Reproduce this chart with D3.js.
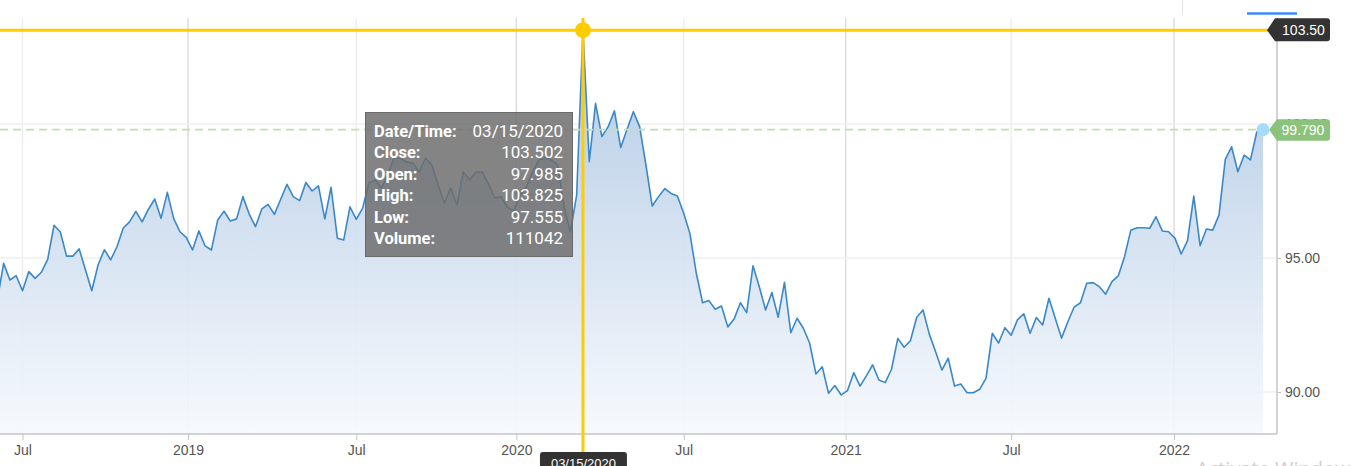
<!DOCTYPE html>
<html><head><meta charset="utf-8">
<script src="https://cdn.jsdelivr.net/npm/d3@7"></script>
<style>html,body{margin:0;padding:0;background:#fff;overflow:hidden}svg{display:block}</style>
</head><body>
<svg id="chart" width="1352" height="466"></svg>
<script>
// ---------------- data ----------------
const startDate = "2018-06-03"; // first weekly observation (weekly, Sundays)
const closeValues = [
 93.43,94.80,94.18,94.34,93.78,94.49,94.24,94.47,94.95,96.22,
 95.98,95.07,95.07,95.34,94.55,93.78,94.74,95.31,94.93,95.42,
 96.12,96.35,96.74,96.35,96.82,97.20,96.48,97.45,96.48,95.98,
 95.77,95.30,96.01,95.45,95.30,96.42,96.75,96.38,96.46,97.29,
 96.64,96.17,96.83,97.00,96.63,97.19,97.75,97.29,97.14,97.82,
 97.50,97.69,96.46,97.64,95.74,95.67,96.91,96.44,96.85,97.80,
 97.91,97.61,98.10,98.73,98.73,98.58,98.54,98.21,98.73,98.47,
 97.72,97.05,97.61,96.98,98.21,97.91,98.21,98.21,97.76,97.24,
 97.28,96.90,96.75,97.35,97.65,98.21,98.66,98.73,98.66,98.47,
 96.90,95.97,97.35,103.502,98.59,100.77,99.53,99.90,100.49,99.12,
 99.80,100.46,99.90,98.47,96.94,97.29,97.59,97.41,97.31,96.67,
 95.90,94.43,93.33,93.41,93.09,93.21,92.43,92.72,93.33,92.96,
 94.71,93.93,93.06,93.71,92.79,94.09,92.21,92.75,92.38,91.82,
 90.67,90.94,89.95,90.24,89.89,90.05,90.72,90.22,90.60,91.01,
 90.45,90.35,90.85,92.00,91.67,91.91,92.79,93.06,92.16,91.50,
 90.82,91.26,90.22,90.30,89.97,89.97,90.10,90.51,92.19,91.83,
 92.40,92.12,92.69,92.92,92.19,92.78,92.50,93.50,92.75,92.01,
 92.62,93.17,93.33,94.06,94.08,93.93,93.65,94.12,94.33,95.05,
 96.04,96.13,96.13,96.11,96.54,96.01,95.98,95.74,95.15,95.65,
 97.31,95.46,96.08,96.04,96.60,98.68,99.15,98.22,98.84,98.66,
 99.70,99.79
];
const xTickDates  = ["2018-07-01","2019-01-01","2019-07-07","2020-01-01","2020-07-05","2021-01-01","2021-07-04","2022-01-01"];
const xTickLabels = ["Jul","2019","Jul","2020","Jul","2021","Jul","2022"];
const xTickMajor  = [false,true,false,true,false,true,false,true];
const yTickValues = [90,95,100];
const yTickLabels = ["90.00","95.00","100.00"];
const tooltipLabels = ["Date/Time:","Close:","Open:","High:","Low:","Volume:"];
const tooltipValues = ["03/15/2020","103.502","97.985","103.825","97.555","111042"];
const hoverDate = "2020-03-15";
const hoverValue = 103.50;
const hoverValueLabel = "103.50";
const lastValueLabel = "99.790";
const hoverDateLabel = "03/15/2020";

// ---------------- setup ----------------
const parse = d3.utcParse("%Y-%m-%d");
const t0 = parse(startDate);
const data = closeValues.map((v,i)=>({date:d3.utcDay.offset(t0,7*i), value:v}));
const last = data[data.length-1];

const plot = {left:0, right:1277, top:18, bottom:434};
const x = d3.scaleUtc().domain([parse("2018-07-01"), parse("2022-01-01")]).range([22.5, 1174]);
const y = d3.scaleLinear().domain([90,100]).range([392,124]);

const svg = d3.select("#chart");
const defs = svg.append("defs");
defs.append("clipPath").attr("id","clip").append("rect")
  .attr("x",plot.left).attr("y",plot.top).attr("width",plot.right-plot.left).attr("height",plot.bottom-plot.top);
const grad = defs.append("linearGradient").attr("id","areaGrad")
  .attr("gradientUnits","userSpaceOnUse").attr("x1",0).attr("x2",0).attr("y1",30).attr("y2",plot.bottom);
grad.append("stop").attr("offset","0%").attr("stop-color","#abc5e2").attr("stop-opacity",0.92);
grad.append("stop").attr("offset","100%").attr("stop-color","#f6f9fd").attr("stop-opacity",0.92);

// top decorations (range selector fragments)
svg.append("line").attr("x1",1182.5).attr("x2",1182.5).attr("y1",0).attr("y2",15).attr("stroke","#e2e2e2").attr("stroke-width",1);
svg.append("line").attr("x1",1247).attr("x2",1297).attr("y1",13.5).attr("y2",13.5).attr("stroke","#3d8af7").attr("stroke-width",2.5);

// grid
const gx = svg.append("g");
xTickDates.forEach((d,i)=>{
  const xp = x(parse(d));
  gx.append("line").attr("x1",xp).attr("x2",xp).attr("y1",plot.top).attr("y2",plot.bottom)
    .attr("stroke", xTickMajor[i] ? "#dddddd" : "#eeeeee").attr("stroke-width",1.5);
});
yTickValues.forEach(v=>{
  svg.append("line").attr("x1",plot.left).attr("x2",plot.right).attr("y1",y(v)).attr("y2",y(v))
    .attr("stroke","#efefef").attr("stroke-width",1.5);
});

// area + line
const g = svg.append("g").attr("clip-path","url(#clip)");
g.append("path").datum(data)
  .attr("d", d3.area().x(d=>x(d.date)).y0(plot.bottom).y1(d=>y(d.value)))
  .attr("fill","url(#areaGrad)");
g.append("path").datum(data)
  .attr("d", d3.line().x(d=>x(d.date)).y(d=>y(d.value)))
  .attr("fill","none").attr("stroke","#3b88c8").attr("stroke-width",1.6).attr("stroke-linejoin","round");

// last value dashed line
svg.append("line").attr("x1",plot.left).attr("x2",x(last.date)).attr("y1",y(last.value)).attr("y2",y(last.value))
  .attr("stroke","#bfe0b0").attr("stroke-width",1.8).attr("stroke-dasharray","8,5");

// axes
const axisColor = "#c4c4c4";
svg.append("line").attr("x1",plot.left).attr("x2",plot.right).attr("y1",plot.bottom).attr("y2",plot.bottom)
  .attr("stroke",axisColor).attr("stroke-width",1.5);
svg.append("line").attr("x1",plot.right).attr("x2",plot.right).attr("y1",plot.top).attr("y2",plot.bottom)
  .attr("stroke",axisColor).attr("stroke-width",1.5);
const xAxis = d3.axisBottom(x).tickValues(xTickDates.map(parse))
  .tickFormat((d,i)=>xTickLabels[i]).tickSize(6).tickPadding(5);
const xa = svg.append("g").attr("transform",`translate(0,${plot.bottom})`).call(xAxis);
xa.select(".domain").remove();
xa.selectAll(".tick line").attr("stroke",axisColor);
xa.selectAll(".tick text").attr("fill","#555").attr("font-family","'Liberation Sans', Arial, sans-serif").attr("font-size",14);

const yAxis = d3.axisRight(y).tickValues(yTickValues).tickFormat((d,i)=>yTickLabels[i]).tickSize(4).tickPadding(4);
const ya = svg.append("g").attr("transform",`translate(${plot.right},0)`).call(yAxis);
ya.select(".domain").remove();
ya.selectAll(".tick line").attr("stroke",axisColor);
ya.selectAll(".tick text").attr("fill","#555").attr("font-family","'Liberation Sans', Arial, sans-serif").attr("font-size",14);

// crosshair
const hx = x(parse(hoverDate)), hy = y(hoverValue);
const yellow = "#ffcc00";
svg.append("line").attr("x1",plot.left).attr("x2",1268).attr("y1",hy).attr("y2",hy).attr("stroke",yellow).attr("stroke-width",3);
svg.append("line").attr("x1",hx).attr("x2",hx).attr("y1",plot.top).attr("y2",454).attr("stroke",yellow).attr("stroke-width",3);
svg.append("circle").attr("cx",hx).attr("cy",hy).attr("r",8).attr("fill",yellow);

// tooltip
const tt = svg.append("g");
tt.append("rect").attr("x",365.5).attr("y",112.5).attr("width",207).attr("height",144)
  .attr("fill","rgb(108,108,108)").attr("fill-opacity",0.84).attr("stroke","#6a6a6a").attr("stroke-width",1);
tooltipLabels.forEach((lab,i)=>{
  const by = 137 + i*21.4;
  tt.append("text").attr("x",374).attr("y",by).text(lab)
    .attr("fill","#fff").attr("font-family","Roboto, sans-serif").attr("font-weight","bold").attr("font-size",16.5);
  tt.append("text").attr("x",563).attr("y",by).attr("text-anchor","end").text(tooltipValues[i])
    .attr("fill","#fff").attr("font-family","Roboto, sans-serif").attr("font-size",17);
});

// value labels on right
function tagPath(tip, cy, top, bottom, x1, r){
  const x0 = tip + 8;
  return `M${tip},${cy} L${x0},${top} L${x1-r},${top} Q${x1},${top} ${x1},${top+r} L${x1},${bottom-r} Q${x1},${bottom} ${x1-r},${bottom} L${x0},${bottom} Z`;
}
const ly = y(last.value);
svg.append("path").attr("d",tagPath(1269, ly, ly-10.5, ly+11, 1330, 3)).attr("fill","#8cc37b");
svg.append("text").attr("x",1303).attr("y",ly).attr("dy","0.35em").attr("text-anchor","middle").text(lastValueLabel)
  .attr("fill","#fff").attr("font-family","'Liberation Sans', Arial, sans-serif").attr("font-size",14);
svg.append("path").attr("d",tagPath(1267, hy, hy-12, hy+11, 1330, 3)).attr("fill","#333333");
svg.append("text").attr("x",1303.5).attr("y",hy).attr("dy","0.35em").attr("text-anchor","middle").text(hoverValueLabel)
  .attr("fill","#fff").attr("font-family","'Liberation Sans', Arial, sans-serif").attr("font-size",14);

// last point marker
svg.append("circle").attr("cx",x(last.date)).attr("cy",y(last.value)).attr("r",6.5).attr("fill","#a6dcf8");

// bottom date label
svg.append("rect").attr("x",hx-43).attr("y",452).attr("width",87).attr("height",24).attr("rx",3).attr("fill","#333");
svg.append("text").attr("x",hx+0.5).attr("y",468).attr("text-anchor","middle").text(hoverDateLabel)
  .attr("fill","#fff").attr("font-family","'Liberation Sans', Arial, sans-serif").attr("font-size",13);

// OS watermark fragment
svg.append("text").attr("x",1196).attr("y",476).text("Activate Windows")
  .attr("fill","#cfcfcf").attr("font-family","'Open Sans', sans-serif").attr("font-size",20);
</script>
</body></html>
